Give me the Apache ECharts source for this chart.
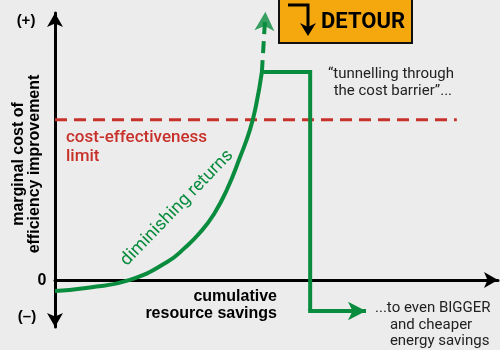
<!DOCTYPE html>
<html>
<head>
<meta charset="utf-8">
<script src="https://cdn.jsdelivr.net/npm/echarts@6/dist/echarts.min.js"></script>
<style>
html, body { margin: 0; padding: 0; background: #ececec; }
#chart { width: 500px; height: 350px; }
</style>
</head>
<body>
<div id="chart"></div>
<script>
// 递减收益曲线
var curveX = [0, 7.9, 16.9, 25.3, 29.3, 32.7, 35.9, 38.8, 41.8, 44.0, 45.4, 46.7];
var curveY = [-3.5, -2.4, 0, 5.7, 10.2, 15.0, 21.0, 28.7, 39.2, 47.8, 55.7, 66.2];
// 虚线延伸箭头（杆 + 箭头）
var risingX = [46.7, 47.4];
var risingY = [66.2, 82.5];
var risingTipX = [47.5];
var risingTipY = [85.4];
// 绕道路线
var detourX = [46.3, 57.6, 57.6];
var detourY = [66.2, 66.2, -9.9];
var detourArrowX = [57.6, 70.2];
var detourArrowY = [-9.9, -9.9];
// 成本效益极限
var limitX = [0, 90.7];
var limitY = [51.0, 51.0];

var green = "#0a8c3e";
var red = "#c8302a";

function zip(xs, ys){
	var out = [];
	for(var i=0; i<xs.length; i++) out.push([xs[i], ys[i]]);
	return out;
}

var myChart = echarts.init(document.getElementById("chart"));

var hidden = {
	axisTick: {show: false},
	axisLabel: {show: false},
	splitLine: {show: false}
};

var boldFont = "bold 16px 'Liberation Sans'";

var option = {
	backgroundColor: "#ececec",
	animation: false,
	grid: {left: 55, right: 2, top: 13, bottom: 23},
	xAxis: Object.assign({
		type: "value", min: 0, max: 100,
		axisLine: {show: true, onZero: true, symbol: ["none", "arrow"], symbolSize: [12, 14],
			lineStyle: {color: "#000", width: 3}}
	}, hidden),
	yAxis: Object.assign({
		type: "value", min: -15, max: 85,
		axisLine: {show: true, onZero: true, symbol: ["arrow", "arrow"], symbolSize: [12, 14],
			lineStyle: {color: "#000", width: 3}}
	}, hidden),
	series: [
		{
			type: "line", data: zip(limitX, limitY), symbol: "none", clip: false,
			lineStyle: {color: red, width: 3, type: [12, 7]}
		},
		{
			type: "line", data: zip(curveX, curveY), smooth: 0.5,
			symbol: "none", clip: false,
			lineStyle: {color: green, width: 4}
		},
		{
			type: "line", data: zip(risingX, risingY), symbol: "none", clip: false,
			lineStyle: {color: green, width: 4, type: [12, 7]}
		},
		{
			type: "scatter", data: zip(risingTipX, risingTipY), clip: false,
			symbol: "arrow", symbolSize: [15, 19], symbolRotate: -3,
			itemStyle: {color: green}
		},
		{
			type: "line", data: zip(detourX, detourY), symbol: "none", clip: false,
			lineStyle: {color: green, width: 4, join: "miter"},
			markLine: {
				silent: true, symbol: ["none", "arrow"], symbolSize: [14, 18], label: {show: false},
				lineStyle: {color: green, width: 4, type: "solid"},
				data: [[{coord: [detourArrowX[0] - 0.45, detourArrowY[0]]}, {coord: [detourArrowX[1], detourArrowY[1]]}]]
			}
		}
	],
	graphic: [
		// 绕道标志
		{type: "rect", shape: {x: 279, y: -3, width: 133, height: 46},
			style: {fill: "#f5a80d", stroke: "#111", lineWidth: 2}},
		{type: "polyline", shape: {points: [[288, 5], [308, 5], [308, 30]]},
			style: {stroke: "#000", lineWidth: 3, fill: null}},
		{type: "polygon", shape: {points: [[300, 23], [308, 36], [316, 23], [308, 27]]},
			style: {fill: "#000"}},
		{type: "text", x: 363, y: 22, style: {text: "DETOUR", font: "bold 22px Roboto",
			fill: "#000", align: "center", verticalAlign: "middle"}},
		// 坐标轴文字
		{type: "text", x: 26, y: 21, style: {text: "(+)", font: "bold 15px 'Liberation Sans'",
			fill: "#000", align: "center", verticalAlign: "middle"}},
		{type: "text", x: 42, y: 281, style: {text: "0", font: "bold 16px 'Liberation Sans'",
			fill: "#000", align: "center", verticalAlign: "middle"}},
		{type: "text", x: 27, y: 317, style: {text: "(–)", font: "bold 15px 'Liberation Sans'",
			fill: "#000", align: "center", verticalAlign: "middle"}},
		{type: "text", x: 27, y: 164, rotation: Math.PI / 2,
			style: {text: "marginal cost of\nefficiency improvement", font: boldFont,
			lineHeight: 16, fill: "#000", align: "center", verticalAlign: "middle"}},
		{type: "text", x: 277, y: 305,
			style: {text: "cumulative\nresource savings", font: boldFont,
			lineHeight: 17, fill: "#000", align: "right", verticalAlign: "middle"}},
		// 注释
		{type: "text", x: 66, y: 147,
			style: {text: "cost-effectiveness\nlimit", font: "500 17px Roboto",
			lineHeight: 19, fill: red, align: "left", verticalAlign: "middle"}},
		{type: "text", x: 177, y: 208, rotation: 46 * Math.PI / 180,
			style: {text: "diminishing returns", font: "18px Roboto",
			fill: green, align: "center", verticalAlign: "middle"}},
		{type: "text", x: 391, y: 83,
			style: {text: "“tunnelling through\n the cost barrier”...", font: "15px Roboto",
			lineHeight: 17, fill: "#222", align: "center", verticalAlign: "middle"}},
		{type: "text", x: 375, y: 325,
			style: {text: "...to even BIGGER\n    and cheaper\n    energy savings", font: "15px Roboto",
			lineHeight: 16.5, fill: "#222", align: "left", verticalAlign: "middle"}}
	]
};

myChart.setOption(option);
</script>
</body>
</html>
